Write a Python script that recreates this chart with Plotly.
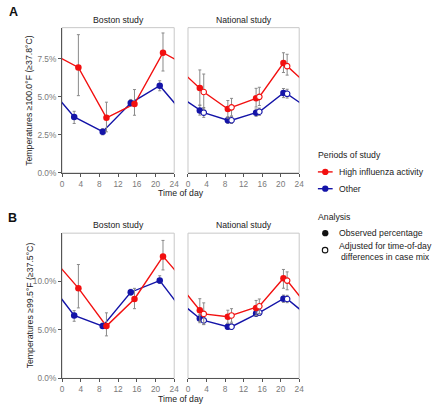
import plotly.graph_objects as go

# ---------------- data (percent values) ----------------
hours_high = [3.5, 9.5, 15.5, 21.6]          # Boston, high influenza activity
hours_other = [2.6, 8.7, 14.7, 20.9]         # Boston, other
hours_obs = [2.55, 8.6, 14.7, 20.6]          # National, observed
hours_adj = [3.4, 9.4, 15.4, 21.4]           # National, adjusted

# Panel A (>=100.0F)
A_bos_high = [6.93, 3.62, 4.53, 7.90]
A_bos_high_lo = [5.08, 2.70, 3.79, 6.70]
A_bos_high_hi = [9.09, 4.65, 5.48, 9.20]
A_bos_other = [3.68, 2.71, 4.59, 5.73]
A_bos_other_lo = [3.25, 2.50, 4.40, 5.40]
A_bos_other_hi = [4.05, 2.90, 4.83, 6.06]

A_nat_high_obs = [5.58, 4.20, 4.90, 7.22]
A_nat_high_obs_lo = [4.45, 3.60, 4.33, 6.60]
A_nat_high_obs_hi = [6.77, 4.76, 5.56, 7.90]
A_nat_high_adj = [5.32, 4.31, 5.00, 7.02]
A_nat_high_adj_lo = [4.20, 3.75, 4.43, 6.43]
A_nat_high_adj_hi = [6.50, 4.90, 5.63, 7.80]
A_nat_other_obs = [4.11, 3.46, 3.96, 5.26]
A_nat_other_obs_lo = [3.80, 3.25, 3.72, 4.95]
A_nat_other_obs_hi = [4.45, 3.70, 4.20, 5.55]
A_nat_other_adj = [3.96, 3.46, 4.02, 5.20]
A_nat_other_adj_lo = [3.65, 3.25, 3.78, 4.92]
A_nat_other_adj_hi = [4.30, 3.70, 4.26, 5.50]

# Panel B (>=99.5F)
B_bos_high = [9.32, 5.40, 8.20, 12.60]
B_bos_high_lo = [7.28, 4.39, 7.20, 11.20]
B_bos_high_hi = [11.76, 6.77, 9.30, 14.25]
B_bos_other = [6.50, 5.40, 8.90, 10.10]
B_bos_other_lo = [5.90, 5.20, 8.60, 9.80]
B_bos_other_hi = [7.00, 5.70, 9.20, 10.60]

B_nat_high_obs = [7.04, 6.36, 7.28, 10.34]
B_nat_high_obs_lo = [5.90, 5.70, 6.50, 9.31]
B_nat_high_obs_hi = [8.23, 7.04, 8.05, 11.25]
B_nat_high_adj = [6.66, 6.50, 7.45, 10.10]
B_nat_high_adj_lo = [5.58, 5.80, 6.70, 9.15]
B_nat_high_adj_hi = [7.80, 7.20, 8.20, 11.00]
B_nat_other_obs = [6.19, 5.34, 6.70, 8.23]
B_nat_other_obs_lo = [5.75, 5.05, 6.40, 7.85]
B_nat_other_obs_hi = [6.60, 5.65, 7.00, 8.60]
B_nat_other_adj = [5.99, 5.34, 6.80, 8.20]
B_nat_other_adj_lo = [5.55, 5.05, 6.50, 7.82]
B_nat_other_adj_hi = [6.45, 5.65, 7.10, 8.58]

x_ticks = [0, 4, 8, 12, 16, 20, 24]
A_yticks = [0, 2.5, 5.0, 7.5]
B_yticks = [0, 5.0, 10.0]
A_ymax = 9.55
B_ymax = 15.0

panel_titles = ["Boston study", "National study"]
A_ytitle = "Temperatures ≥100.0°F (≥37.8°C)"
B_ytitle = "Temperatures ≥99.5°F (≥37.5°C)"
x_title = "Time of day"

RED = "#F21010"
BLUE = "#1414A8"
ERR = "#8a8a8a"
FONT = "Liberation Sans, Arial, sans-serif"

W, H = 440, 415


def px(x):
    return x / W


def py(y):
    return 1 - y / H


fig = go.Figure()


def pct(v):
    return [a / 100 for a in v]


def add_line(xs, ys, color, xa, ya):
    pts = sorted(zip(xs, ys))
    sx = [p[0] for p in pts]
    sy = [p[1] for p in pts]
    # wrap-around: the day is circular
    lx = [sx[-1] - 24] + sx + [sx[0] + 24]
    ly = [sy[-1]] + sy + [sy[0]]
    fig.add_trace(go.Scatter(x=lx, y=pct(ly), mode="lines",
                             line=dict(color=color, width=1.4),
                             xaxis=xa, yaxis=ya, showlegend=False, hoverinfo="skip"))


def add_pts(xs, ys, lo, hi, color, xa, ya, hollow=False):
    up = [(h - v) / 100 for h, v in zip(hi, ys)]
    dn = [(v - l) / 100 for l, v in zip(lo, ys)]
    marker = dict(size=6.5, color=color, line=dict(width=0)) if not hollow else \
        dict(size=5.5, color="white", line=dict(color=color, width=1.1))
    fig.add_trace(go.Scatter(x=xs, y=pct(ys), mode="markers", marker=marker,
                             error_y=dict(type="data", symmetric=False, array=up, arrayminus=dn,
                                          color=ERR, thickness=1, width=1.5),
                             xaxis=xa, yaxis=ya, showlegend=False, cliponaxis=False))


# Panel A Boston
add_line(hours_other, A_bos_other, BLUE, "x", "y")
add_line(hours_high, A_bos_high, RED, "x", "y")
add_pts(hours_other, A_bos_other, A_bos_other_lo, A_bos_other_hi, BLUE, "x", "y")
add_pts(hours_high, A_bos_high, A_bos_high_lo, A_bos_high_hi, RED, "x", "y")

# Panel A National
add_line(hours_obs + hours_adj, A_nat_other_obs + A_nat_other_adj, BLUE, "x2", "y2")
add_line(hours_obs + hours_adj, A_nat_high_obs + A_nat_high_adj, RED, "x2", "y2")
add_pts(hours_obs, A_nat_other_obs, A_nat_other_obs_lo, A_nat_other_obs_hi, BLUE, "x2", "y2")
add_pts(hours_adj, A_nat_other_adj, A_nat_other_adj_lo, A_nat_other_adj_hi, BLUE, "x2", "y2", True)
add_pts(hours_obs, A_nat_high_obs, A_nat_high_obs_lo, A_nat_high_obs_hi, RED, "x2", "y2")
add_pts(hours_adj, A_nat_high_adj, A_nat_high_adj_lo, A_nat_high_adj_hi, RED, "x2", "y2", True)

# Panel B Boston
add_line(hours_other, B_bos_other, BLUE, "x3", "y3")
add_line(hours_high, B_bos_high, RED, "x3", "y3")
add_pts(hours_other, B_bos_other, B_bos_other_lo, B_bos_other_hi, BLUE, "x3", "y3")
add_pts(hours_high, B_bos_high, B_bos_high_lo, B_bos_high_hi, RED, "x3", "y3")

# Panel B National
add_line(hours_obs + hours_adj, B_nat_other_obs + B_nat_other_adj, BLUE, "x4", "y4")
add_line(hours_obs + hours_adj, B_nat_high_obs + B_nat_high_adj, RED, "x4", "y4")
add_pts(hours_obs, B_nat_other_obs, B_nat_other_obs_lo, B_nat_other_obs_hi, BLUE, "x4", "y4")
add_pts(hours_adj, B_nat_other_adj, B_nat_other_adj_lo, B_nat_other_adj_hi, BLUE, "x4", "y4", True)
add_pts(hours_obs, B_nat_high_obs, B_nat_high_obs_lo, B_nat_high_obs_hi, RED, "x4", "y4")
add_pts(hours_adj, B_nat_high_adj, B_nat_high_adj_lo, B_nat_high_adj_hi, RED, "x4", "y4", True)

# ---------------- layout ----------------
bos_dom = [px(61), px(175)]
nat_dom = [px(189), px(302)]
A_dom = [py(175), py(28)]
B_dom = [py(383), py(236)]

tickfont = dict(family=FONT, size=8.3, color="#7a7a7a")


def xax(dom, anchor):
    return dict(domain=dom, anchor=anchor, range=[0, 24], tickvals=x_ticks,
                ticktext=[str(t) for t in x_ticks], ticks="outside", ticklen=3,
                tickwidth=0.8, tickcolor="#555", showline=True, linecolor="#555",
                linewidth=1, showgrid=False, zeroline=False, tickfont=tickfont,
                fixedrange=True)


def yax(dom, anchor, ymax, tv, labels):
    d = dict(domain=dom, anchor=anchor, range=[0, ymax / 100], showgrid=False,
             zeroline=False, fixedrange=True)
    if labels:
        d.update(tickvals=[t / 100 for t in tv], ticktext=[f"{t:.1f}%" for t in tv],
                 ticks="outside", ticklen=3, tickwidth=0.8, tickcolor="#555",
                 showline=True, linecolor="#555", linewidth=1, tickfont=tickfont)
    else:
        d.update(showticklabels=False, ticks="", showline=False)
    return d


shapes = []
# light panel borders
for (x0, x1) in [(61, 175), (189, 302)]:
    for (y0, y1) in [(28, 175), (236, 383)]:
        shapes.append(dict(type="rect", xref="paper", yref="paper",
                           x0=px(x0), x1=px(x1), y0=py(y1), y1=py(y0),
                           line=dict(color="#c8c8c8", width=1), layer="below"))

ann = []


def text(x, y, s, size=8.7, color="#222", anchor="center", bold=False, angle=0):
    ann.append(dict(x=px(x), y=py(y), xref="paper", yref="paper", text=f"<b>{s}</b>" if bold else s,
                    showarrow=False, xanchor=anchor, yanchor="middle", textangle=angle,
                    font=dict(family=FONT, size=size, color=color)))


text(11.3, 12.5, "A", size=12.5, color="#111", bold=True)
text(11, 221, "B", size=12.5, color="#111", bold=True)
for yy in [20, 228]:
    text(118, yy, panel_titles[0])
    text(245.5, yy, panel_titles[1])
text(28, 101.5, A_ytitle, angle=-90)
text(28, 309.5, B_ytitle, angle=-90)
text(181.5, 195.5, x_title)
text(181.5, 403.5, x_title)

# legend: periods of study
text(319, 157, "Periods of study", anchor="left")
for yy, col, lab in [(174, RED, "High influenza activity"), (191, BLUE, "Other")]:
    shapes.append(dict(type="line", xref="paper", yref="paper", x0=px(321), x1=px(336),
                       y0=py(yy), y1=py(yy), line=dict(color=col, width=1.4)))
    shapes.append(dict(type="circle", xref="paper", yref="paper", x0=px(325.3), x1=px(331.7),
                       y0=py(yy + 3.2), y1=py(yy - 3.2), fillcolor=col, line=dict(width=0)))
    text(340, yy, lab, anchor="left")

# legend: analysis
text(319, 220, "Analysis", anchor="left")
shapes.append(dict(type="circle", xref="paper", yref="paper", x0=px(325.3), x1=px(331.7),
                   y0=py(239.2), y1=py(232.8), fillcolor="#111", line=dict(width=0)))
text(340, 236, "Observed percentage", anchor="left")
shapes.append(dict(type="circle", xref="paper", yref="paper", x0=px(325.5), x1=px(331.1),
                   y0=py(256), y1=py(250.4), fillcolor="white", line=dict(color="#111", width=1.1)))
text(340, 254.5, "Adjusted for time-of-day<br>differences in case mix", anchor="left")

fig.update_layout(
    width=W, height=H, margin=dict(l=0, r=0, t=0, b=0),
    paper_bgcolor="white", plot_bgcolor="white", showlegend=False,
    hovermode=False,
    xaxis=xax(bos_dom, "y"), yaxis=yax(A_dom, "x", A_ymax, A_yticks, True),
    xaxis2=xax(nat_dom, "y2"), yaxis2=yax(A_dom, "x2", A_ymax, A_yticks, False),
    xaxis3=xax(bos_dom, "y3"), yaxis3=yax(B_dom, "x3", B_ymax, B_yticks, True),
    xaxis4=xax(nat_dom, "y4"), yaxis4=yax(B_dom, "x4", B_ymax, B_yticks, False),
    shapes=shapes, annotations=ann,
)

# remove the browser's default 8px body margin so the figure fills the window
fig.write_html("out.html", config={"displayModeBar": False},
               post_script="document.body.style.margin='0';document.body.style.overflow='hidden';")
